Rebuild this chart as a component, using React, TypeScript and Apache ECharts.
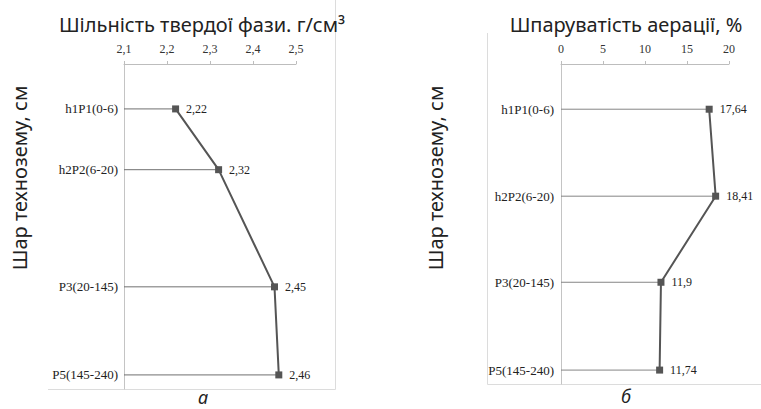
import React, { useEffect, useRef } from "react";
import * as echarts from "echarts";

// ---- Data ----
const layers = ["h1P1(0-6)", "h2P2(6-20)", "P3(20-145)", "P5(145-240)"];
const densityValues = [2.22, 2.32, 2.45, 2.46];
const aerationValues = [17.64, 18.41, 11.9, 11.74];
// relative vertical positions of the layer rows
const layerPosA = [0.51, 1.2, 2.53, 3.53];
const layerPosB = [0.52, 1.52, 2.51, 3.52];
const densityTicks = { min: 2.1, max: 2.5, interval: 0.1 };
const aerationTicks = { min: 0, max: 20, interval: 5 };

const titleA = "Шільність твердої фази. г/см³";
const titleB = "Шпаруватість аерації, %";
const yName = "Шар технозему, см";
const captionA = "а";
const captionB = "б";

const SERIF = "Liberation Serif";
const SANS = "Noto Sans";

const fmt = (v: number) => String(v).replace(".", ",");

function dropSeries(idx: number, values: number[], pos: number[], xMin: number, labelGap: number, color: string) {
  return {
    type: "custom",
    xAxisIndex: idx,
    yAxisIndex: idx,
    clip: false,
    z: 1,
    data: values.map((v, i) => [v, pos[i], i]),
    renderItem: (params: any, api: any) => {
      const x = api.value(0);
      const y = api.value(1);
      const i = api.value(2);
      const p0 = api.coord([xMin, y]);
      const p1 = api.coord([x, y]);
      return {
        type: "group",
        children: [
          {
            type: "line",
            shape: { x1: p0[0], y1: p0[1], x2: p1[0], y2: p1[1] },
            style: { stroke: color, lineWidth: 1 },
          },
          {
            type: "text",
            x: p0[0] - labelGap,
            y: p0[1],
            style: {
              text: layers[i],
              fontFamily: SERIF,
              fontSize: 13,
              fill: "#222",
              align: "right",
              verticalAlign: "middle",
              textAlign: "right",
              textVerticalAlign: "middle",
            },
          },
        ],
      };
    },
  };
}

function lineSeries(idx: number, values: number[], pos: number[]) {
  return {
    type: "line",
    xAxisIndex: idx,
    yAxisIndex: idx,
    z: 3,
    data: values.map((v, i) => [v, pos[i]]),
    symbol: "rect",
    symbolSize: 7,
    lineStyle: { color: "#555", width: 2 },
    itemStyle: { color: "#555" },
    label: {
      show: true,
      position: "right",
      distance: 7,
      fontFamily: SERIF,
      fontSize: 12,
      color: "#222",
      formatter: (p: any) => fmt(p.value[0]),
    },
  };
}

function xAxisOf(idx: number, t: { min: number; max: number; interval: number }) {
  return {
    type: "value",
    gridIndex: idx,
    position: "top",
    min: t.min,
    max: t.max,
    interval: t.interval,
    axisLine: { show: true, lineStyle: { color: "#bdbdbd", width: 1 } },
    axisTick: { show: true, length: 3, lineStyle: { color: "#bdbdbd" } },
    axisLabel: {
      margin: 9,
      fontFamily: SERIF,
      fontSize: 12,
      color: "#333",
      formatter: (v: number) => fmt(Math.round(v * 100) / 100),
    },
    splitLine: { show: false },
  };
}

function yAxisOf(idx: number, max: number) {
  return {
    type: "value",
    gridIndex: idx,
    inverse: true,
    min: 0,
    max,
    axisLine: { show: true, onZero: false, lineStyle: { color: "#c4c4c4", width: 1 } },
    axisTick: { show: false },
    axisLabel: { show: false },
    splitLine: { show: false },
  };
}

const sansText = (text: string, x: number, y: number, size: number, extra: any = {}) => ({
  type: "text",
  x,
  y,
  rotation: extra.rotation || 0,
  style: {
    text,
    fontFamily: SANS,
    fontSize: size,
    fontStyle: extra.italic ? "italic" : "normal",
    fill: "#222",
    textAlign: "center",
    textVerticalAlign: "middle",
    align: "center",
    verticalAlign: "middle",
  },
});

const frameLine = (x1: number, y1: number, x2: number, y2: number) => ({
  type: "line",
  z: -1,
  shape: { x1, y1, x2, y2 },
  style: { stroke: "#dcdcdc", lineWidth: 1 },
});

export default function App() {
  const ref = useRef<HTMLDivElement>(null);
  useEffect(() => {
    if (!ref.current) return;
    const chart = echarts.init(ref.current, undefined, { renderer: "svg" });
    chart.setOption({
      animation: false,
      backgroundColor: "#fff",
      grid: [
        { left: 124, top: 64, width: 172, height: 325 },
        { left: 561, top: 64, width: 168, height: 320 },
      ],
      xAxis: [xAxisOf(0, densityTicks), xAxisOf(1, aerationTicks)],
      yAxis: [yAxisOf(0, 3.69), yAxisOf(1, 3.68)],
      series: [
        dropSeries(0, densityValues, layerPosA, densityTicks.min, 6, "#707070"),
        lineSeries(0, densityValues, layerPosA),
        dropSeries(1, aerationValues, layerPosB, aerationTicks.min, 7, "#858585"),
        lineSeries(1, aerationValues, layerPosB),
      ],
      graphic: [
        frameLine(48, 389.5, 335.5, 389.5),
        frameLine(335.5, 0, 335.5, 389.5),
        frameLine(487.5, 33, 487.5, 384.5),
        frameLine(487.5, 384.5, 761, 384.5),
        sansText(titleA, 202, 24, 20),
        sansText(titleB, 626, 24, 20),
        sansText(yName, 19, 178, 20, { rotation: Math.PI / 2 }),
        sansText(yName, 435, 178, 20, { rotation: Math.PI / 2 }),
        sansText(captionA, 203, 397, 18, { italic: true }),
        sansText(captionB, 626, 396, 18, { italic: true }),
      ],
    });
    return () => chart.dispose();
  }, []);
  return (
    <div
      ref={ref}
      style={{ position: "absolute", left: 0, top: 0, width: 761, height: 409, background: "#fff" }}
    />
  );
}
